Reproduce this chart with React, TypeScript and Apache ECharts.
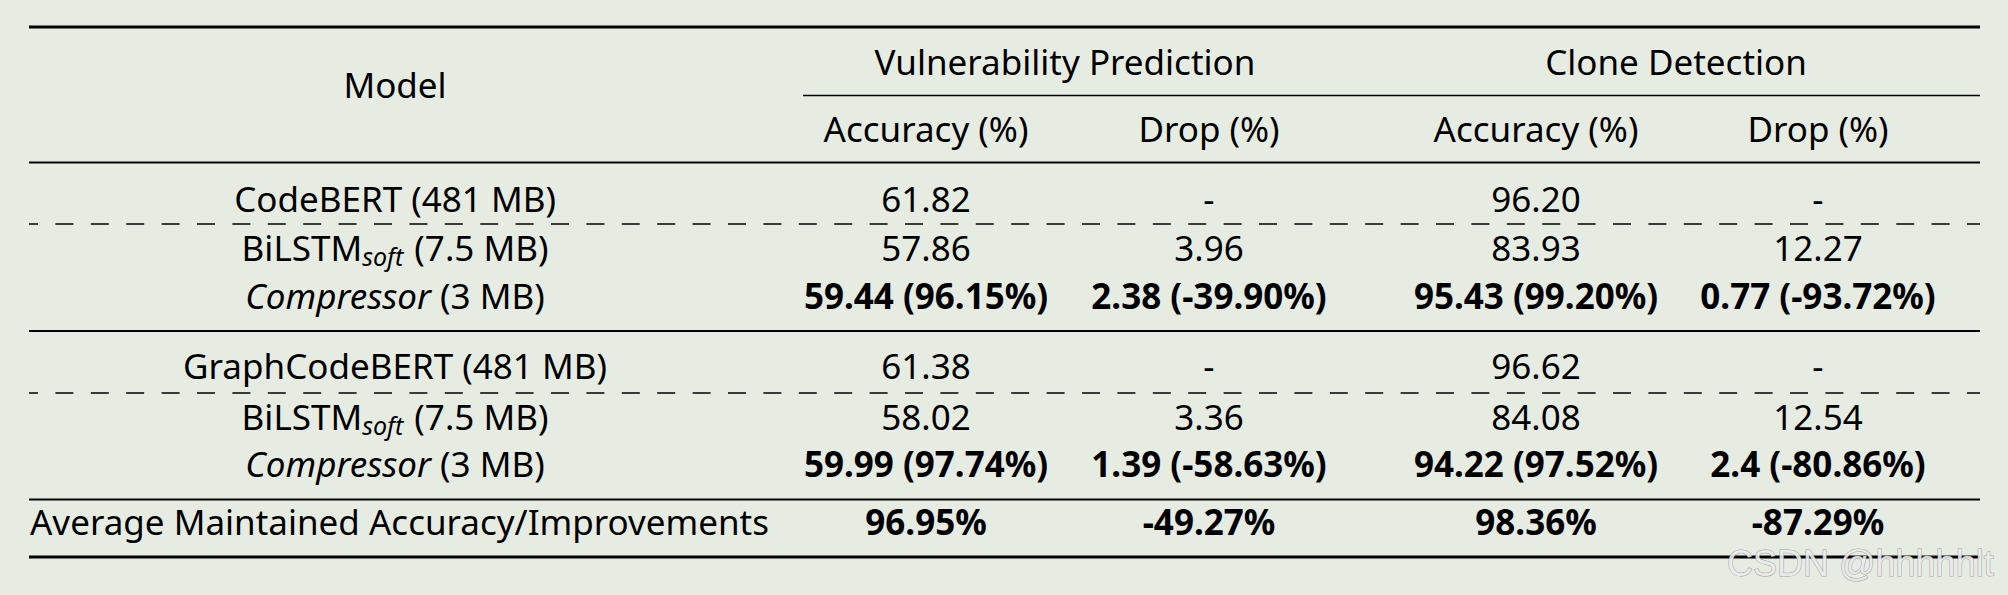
import React, { useEffect, useRef } from "react";
import * as echarts from "echarts";

// ---- data ----
const modelHeader = "Model";
const taskHeaders = ["Vulnerability Prediction", "Clone Detection"];
const metricHeaders = ["Accuracy (%)", "Drop (%)", "Accuracy (%)", "Drop (%)"];

const teacherModels = ["CodeBERT", "GraphCodeBERT"];
const teacherSize = "481 MB";
const studentBase = "BiLSTM";
const studentSub = "soft";
const studentSize = "7.5 MB";
const compressorName = "Compressor";
const compressorSize = "3 MB";

const codebertValues = ["61.82", "-", "96.20", "-"];
const bilstm1Values = ["57.86", "3.96", "83.93", "12.27"];
const compressor1Values = ["59.44 (96.15%)", "2.38 (-39.90%)", "95.43 (99.20%)", "0.77 (-93.72%)"];
const graphcodebertValues = ["61.38", "-", "96.62", "-"];
const bilstm2Values = ["58.02", "3.36", "84.08", "12.54"];
const compressor2Values = ["59.99 (97.74%)", "1.39 (-58.63%)", "94.22 (97.52%)", "2.4 (-80.86%)"];
const averageLabel = "Average Maintained Accuracy/Improvements";
const averageValues = ["96.95%", "-49.27%", "98.36%", "-87.29%"];
const watermark = "CSDN @hhhhhlt";

// ---- layout ----
const W = 2008;
const H = 595;
const FONT = "'Noto Sans', 'Open Sans', sans-serif";
const FS = 35;
const X0 = 29;
const X1 = 1980;
const modelX = 395;
const colX = [926, 1209, 1536, 1818];
const taskX = [1065, 1676];

export default function App() {
  const ref = useRef<HTMLDivElement>(null);
  useEffect(() => {
    if (!ref.current) return;
    const chart = echarts.init(ref.current, null, { renderer: "svg", width: W, height: H });

    const els: any[] = [];
    const txt = (x: number, y: number, text: string, opts: any = {}) => {
      els.push({
        type: "text",
        x,
        y,
        style: {
          text,
          fill: "#000",
          fontFamily: FONT,
          fontSize: FS,
          align: opts.align || "center",
          verticalAlign: "middle",
          textAlign: opts.align || "center",
          textVerticalAlign: "middle",
          fontWeight: opts.bold ? "bold" : "normal",
          ...(opts.rich ? { rich: opts.rich } : {}),
        },
      });
    };
    const hline = (y: number, w: number, x1 = X0, dashed = false) => {
      els.push({
        type: "line",
        shape: { x1, y1: y, x2: X1, y2: y },
        style: {
          stroke: "#000",
          lineWidth: w,
          ...(dashed ? { lineDash: [18, 17.4], lineDashOffset: 9 } : {}),
        },
      });
    };

    const rich = {
      n: { fontFamily: FONT, fontSize: FS, fill: "#000" },
      s: { fontFamily: FONT, fontSize: 25, fontStyle: "italic", fill: "#000", padding: [17, 2, 0, 0] },
      i: { fontFamily: FONT, fontSize: FS, fontStyle: "italic", fill: "#000" },
    };
    const studentLabel = `{n|${studentBase}}{s|${studentSub}}{n| (${studentSize})}`;
    const compLabel = `{i|${compressorName}}{n| (${compressorSize})}`;

    // rules
    hline(27, 3.2);
    hline(95.5, 1.4, 803);
    hline(162.5, 2);
    hline(224, 1.4, X0, true);
    hline(331, 2);
    hline(393, 1.4, X0, true);
    hline(499.5, 2);
    hline(557, 3.2);

    // headers
    txt(modelX, 84, modelHeader);
    taskHeaders.forEach((t, i) => txt(taskX[i], 61, t));
    metricHeaders.forEach((t, i) => txt(colX[i], 128, t));

    const blocks = [
      { teacher: teacherModels[0], tv: codebertValues, sv: bilstm1Values, cv: compressor1Values, ys: [198, 247, 295] },
      { teacher: teacherModels[1], tv: graphcodebertValues, sv: bilstm2Values, cv: compressor2Values, ys: [365, 416, 463] },
    ];
    blocks.forEach((b) => {
      txt(modelX, b.ys[0], `${b.teacher} (${teacherSize})`);
      txt(modelX, b.ys[1], studentLabel, { rich });
      txt(modelX, b.ys[2], compLabel, { rich });
      b.tv.forEach((v, i) => txt(colX[i], b.ys[0], v));
      b.sv.forEach((v, i) => txt(colX[i], b.ys[1], v));
      b.cv.forEach((v, i) => txt(colX[i], b.ys[2], v, { bold: true }));
    });

    txt(X0 + 1, 521, averageLabel, { align: "left" });
    averageValues.forEach((v, i) => txt(colX[i], 521, v, { bold: true }));

    els.push({
      type: "text",
      x: 1727,
      y: 563,
      style: {
        text: watermark,
        fontFamily: "'Liberation Sans', Arial, sans-serif",
        fontSize: 36,
        fill: "rgba(236,236,236,0.92)",
        stroke: "rgba(140,140,140,0.8)",
        lineWidth: 1,
        align: "left",
        verticalAlign: "middle",
        textAlign: "left",
        textVerticalAlign: "middle",
      },
    });

    chart.setOption({
      animation: false,
      backgroundColor: "#e7ece3",
      graphic: { elements: els },
    });
    return () => chart.dispose();
  }, []);

  return (
    <div
      ref={ref}
      style={{ position: "fixed", left: 0, top: 0, width: W, height: H, background: "#e7ece3" }}
    />
  );
}
